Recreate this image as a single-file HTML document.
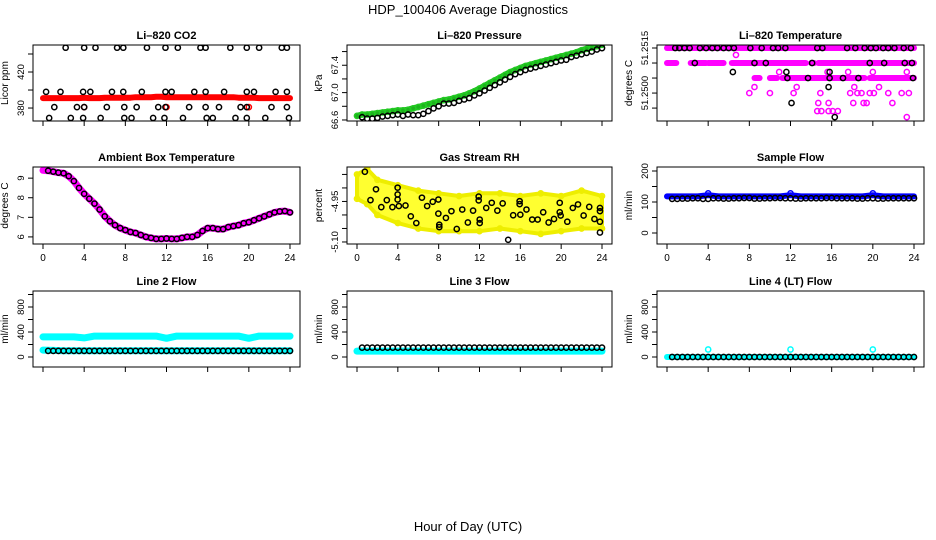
<!DOCTYPE html>
<html><head><meta charset="utf-8"><style>
body{margin:0;background:#fff}
svg{display:block;font-family:"Liberation Sans",Arial,sans-serif}
</style></head><body>
<svg id="c" width="936" height="540" viewBox="0 0 936 540">
<text x="468" y="14" text-anchor="middle" font-size="13">HDP_100406  Average Diagnostics</text>
<text x="468" y="531" text-anchor="middle" font-size="13">Hour of Day (UTC)</text>
</svg>
<script>
// ---------- data ----------
const xTicks=[0,4,8,12,16,20,24];
const halfHours=[0,0.5,1,1.5,2,2.5,3,3.5,4,4.5,5,5.5,6,6.5,7,7.5,8,8.5,9,9.5,10,10.5,11,11.5,12,12.5,13,13.5,14,14.5,15,15.5,16,16.5,17,17.5,18,18.5,19,19.5,20,20.5,21,21.5,22,22.5,23,23.5,24];
// CO2
const co2RedVals=[391,391,391,391,391,391,391,391,391.5,391,391,391,391.5,391.5,391.5,391.5,391.5,391.5,392,392,392,392,392.5,392.5,392,392,392,392,392,392,392,392,392,392,392,392,392,392,391.5,391.5,391.5,391.5,391,391,391,391,391,391,391];
const co2RedExtraHours=[4,12,20];
const co2RedExtraVals=[381,381,381];
const co2BlackHours=[2.2,4.0,5.1,7.2,7.8,10.1,11.9,13.1,15.3,15.8,18.2,19.8,21.0,23.2,23.7, 0.3,1.7,3.9,4.6,6.7,7.8,9.6,11.9,12.5,14.7,15.8,17.6,19.8,20.5,22.6,23.7, 1.1,3.3,4.0,6.2,7.9,9.1,11.2,11.9,14.2,15.8,17.1,19.2,19.8,22.2,23.7, 0.6,2.7,3.9,5.6,7.9,8.6,10.7,11.8,13.6,15.9,16.5,18.7,19.8,21.6,23.9];
const co2BlackVals=[447,447,447,447,447,447,447,447,447,447,447,447,447,447,447, 398,398,398,398,398,398,398,398,398,398,398,398,398,398,398,398, 381,381,381,381,381,381,381,381,381,381,381,381,381,381,381, 369,369,369,369,369,369,369,369,369,369,369,369,369,369,369];
// Pressure
const presGreen=[66.66,66.68,66.68,66.69,66.70,66.71,66.72,66.73,66.74,66.74,66.75,66.77,66.79,66.81,66.83,66.85,66.87,66.89,66.90,66.92,66.94,66.96,66.99,67.02,67.06,67.10,67.14,67.18,67.22,67.26,67.30,67.33,67.36,67.39,67.41,67.43,67.45,67.47,67.49,67.51,67.53,67.55,67.57,67.59,67.62,67.64,67.66,67.68,67.70];
const presBlack=[66.64,66.64,66.62,66.62,66.63,66.65,66.66,66.67,66.68,66.66,66.68,66.67,66.67,66.69,66.73,66.77,66.80,66.84,66.84,66.85,66.88,66.90,66.92,66.96,66.99,67.03,67.07,67.11,67.15,67.19,67.23,67.27,67.30,67.33,67.35,67.37,67.39,67.41,67.43,67.45,67.47,67.48,67.52,67.54,67.56,67.58,67.60,67.63,67.65];
// Li-820 temperature
const tempSegStart=[0,0,2.3,4,6.3,14,14.7,8.5,10,11.2,19.7];
const tempSegEnd=[24,0.9,3.8,5.5,13.5,14.3,24,9,10.7,19.2,24];
const tempSegLevel=[51.2515,51.2510,51.2510,51.2510,51.2510,51.2510,51.2510,51.2505,51.2505,51.2505,51.2505];
const tempMagHours=[6.7,8.0,10.0,12.3,14.9,17.8,18.5,18.9,19.7,20.1,21.5,22.8,23.5,10.9,15.6,17.6,20,23.3,8.5,12.6,18.2,20.6,14.7,15.7,18.1,19.1,19.4,21.9,14.6,15.0,15.7,16.1,16.6,23.3];
const tempMagVals=[51.25127,51.2500,51.2500,51.2500,51.2500,51.2500,51.2500,51.2500,51.2500,51.2500,51.2500,51.2500,51.2500,51.2507,51.2507,51.2507,51.2507,51.2507,51.2502,51.2502,51.2502,51.2502,51.24967,51.24967,51.24967,51.24967,51.24967,51.24967,51.2494,51.2494,51.2494,51.2494,51.2494,51.2492];
const tempBlackHours=[0.8,1.2,1.7,2.2,3.2,3.8,4.4,4.9,5.5,6,6.5,8.1,9.2,10.3,10.8,11.5,14.6,15.1,17.5,18.3,19.2,19.8,20.3,21,21.5,22.1,23,23.7, 2.7,8.5,9.6,14.1,19.7,21.1,23.1,23.8, 11.7,13.7,15.8,17.1,18.6,23.9, 6.4,11.6,15.8,15.7,12.1,16.3];
const tempBlackVals=[51.2515,51.2515,51.2515,51.2515,51.2515,51.2515,51.2515,51.2515,51.2515,51.2515,51.2515,51.2515,51.2515,51.2515,51.2515,51.2515,51.2515,51.2515,51.2515,51.2515,51.2515,51.2515,51.2515,51.2515,51.2515,51.2515,51.2515,51.2515, 51.2510,51.2510,51.2510,51.2510,51.2510,51.2510,51.2510,51.2510, 51.2505,51.2505,51.2505,51.2505,51.2505,51.2505, 51.2507,51.2507,51.2507,51.2502,51.24967,51.2492];
// Ambient box temperature
const ambVals=[9.4,9.38,9.33,9.28,9.25,9.1,8.85,8.5,8.2,7.95,7.7,7.4,7.05,6.8,6.6,6.45,6.35,6.25,6.2,6.1,6.0,5.95,5.9,5.9,5.92,5.9,5.9,5.95,6.0,6.0,6.1,6.3,6.45,6.45,6.4,6.4,6.5,6.55,6.6,6.7,6.75,6.85,6.95,7.05,7.15,7.25,7.3,7.32,7.25];
// Gas stream RH
const rhEnvHours=[0,1,2,4,6,8,10,12,14,16,18,20,22,24];
const rhEnvUpper=[-4.85,-4.83,-4.87,-4.89,-4.91,-4.92,-4.93,-4.92,-4.92,-4.93,-4.92,-4.93,-4.91,-4.93];
const rhEnvLower=[-4.94,-4.96,-5.00,-5.03,-5.05,-5.06,-5.06,-5.06,-5.05,-5.06,-5.07,-5.06,-5.05,-5.05];
const rhBlackHours=[0.77,1.32,1.86,2.38,2.92,3.47,3.98,3.98,3.98,4.1,4.75,5.27,5.81,6.36,6.87,7.42,7.97,7.97,8.06,8.06,8.71,9.25,9.77,10.31,10.86,11.37,11.92,11.92,12.02,12.02,12.66,13.2,13.75,14.27,14.81,15.3,15.93,15.93,16,16.6,17.16,17.7,18.24,18.77,19.3,19.86,19.86,19.95,20.6,21.14,21.65,22.2,22.75,23.26,23.8,23.8,23.8,23.8];
const rhBlackVals=[-4.84,-4.945,-4.905,-4.971,-4.945,-4.971,-4.899,-4.924,-4.943,-4.967,-4.965,-5.005,-5.03,-4.936,-4.967,-4.951,-4.943,-4.995,-5.036,-5.045,-5.011,-4.986,-5.052,-4.98,-5.028,-4.984,-4.932,-4.946,-5.017,-5.03,-4.974,-4.955,-4.984,-4.957,-5.092,-5.001,-4.949,-4.96,-4.999,-4.98,-5.017,-5.017,-4.99,-5.028,-5.015,-4.955,-4.99,-5.002,-5.025,-4.974,-4.961,-5.002,-4.97,-5.015,-4.974,-4.986,-5.025,-5.065];
// flows
const hourly=[0,1,2,3,4,5,6,7,8,9,10,11,12,13,14,15,16,17,18,19,20,21,22,23,24];
const sampleBlue=[118,118,118,118,122,118,118,118,118,118,118,118,122,118,118,118,118,118,118,118,122,118,118,118,118];
const sampleSpikeHours=[4,12,20];
const sampleSpikeVals=[128,128,128];
const sampleBlack=[112,110,111,112,110,112,111,112,113,111,112,113,112,111,112,112,113,112,112,111,112,111,112,112,112];
const line2CyanHigh=[322,322,322,322,305,335,335,335,335,335,335,335,300,335,335,335,335,335,335,335,300,335,335,335,335];
const line2CyanLow=[110,105,100,100,100,100,100,100,100,100,100,100,100,100,100,100,100,100,100,100,100,100,100,100,100];
const line2Black=[98,98,98,98,98,98,98,98,98,98,98,98,98,98,98,98,98,98,98,98,98,98,98,98,98];
const line3Cyan=[95,95,95,95,95,95,95,95,95,95,95,95,95,95,95,95,95,95,95,95,95,95,95,95,95];
const line3Black=[150,150,150,150,150,150,150,150,150,150,150,150,150,150,150,150,150,150,150,150,150,150,150,150,150];
const line4Cyan=[0,0,0,0,0,0,0,0,0,0,0,0,0,0,0,0,0,0,0,0,0,0,0,0,0];
const line4SpikeHours=[4,12,20];
const line4SpikeVals=[120,120,120];
const line4Black=[0,0,0,0,0,0,0,0,0,0,0,0,0,0,0,0,0,0,0,0,0,0,0,0,0];

// ---------- drawing ----------
const NS="http://www.w3.org/2000/svg";
const svg=document.getElementById('c');
function mk(tag,attrs,parent){const e=document.createElementNS(NS,tag);for(const k in attrs)e.setAttribute(k,attrs[k]);parent.appendChild(e);return e;}
const cols=[[33,300],[347,612],[657,924]];
const rows=[[45,121],[167,244],[291,367]];

function panel(ci,ri,title,ytitle,ymin,ymax,yticks,ylabels,showX,name){
  const [l,r]=cols[ci],[t,b]=rows[ri];
  const g=mk('g',{},svg);
  
  
  const X=h=>l+10+h*(r-l-20)/24;
  const Y=v=>b-(v-ymin)/(ymax-ymin)*(b-t);
  const tt=mk('text',{x:(l+r)/2,y:t-6,'text-anchor':'middle','font-size':11,'font-weight':'bold'},g);
  tt.textContent=title;
  
  
  const yt=mk('text',{transform:`translate(${l-25},${(t+b)/2}) rotate(-90)`,'text-anchor':'middle','font-size':10},g);
  yt.textContent=ytitle;
  
  
  yticks.forEach((v,i)=>{
    const y=Y(v);
    const tk=mk('line',{x1:l-5,x2:l,y1:y,y2:y,stroke:'#000'},g);
    
    
    if(ylabels[i]){
      const tl=mk('text',{transform:`translate(${l-9},${y}) rotate(-90)`,'text-anchor':'middle','font-size':9.5},g);
      tl.textContent=ylabels[i];
      
      
    }
  });
  xTicks.forEach(h=>{
    const x=X(h);
    const tk=mk('line',{x1:x,x2:x,y1:b,y2:b+5,stroke:'#000'},g);
    
    
    if(showX){
      const tl=mk('text',{x:x,y:b+17,'text-anchor':'middle','font-size':10},g);
      tl.textContent=String(h);
      
      
    }
  });
  const cid='clip'+ci+ri;
  const cp=mk('clipPath',{id:cid},g);mk('rect',{x:l,y:t,width:r-l,height:b-t},cp);
  const plot=mk('g',{'clip-path':`url(#${cid})`},g);
  
  
  const box=mk('rect',{x:l,y:t,width:r-l,height:b-t,fill:'none',stroke:'#000'},g);
  
  
  return {X,Y,plot};
}
function pts(p,hs,vs,color,sname,r){
  hs.forEach((h,i)=>{
    const c=mk('circle',{cx:p.X(h),cy:p.Y(vs[i]),r:r||2.6,fill:'none',stroke:color,'stroke-width':1.5},p.plot);
    
    
  });
}
function band(p,hs,vs,color,w,sname){
  const d=hs.map((h,i)=>(i?'L':'M')+p.X(h).toFixed(1)+','+p.Y(vs[i]).toFixed(1)).join('');
  const e=mk('path',{d:d,fill:'none',stroke:color,'stroke-width':w,'stroke-linejoin':'round','stroke-linecap':'round'},p.plot);
  
  
}

// CO2
let p=panel(0,0,'Li\u2013820 CO2','Licor ppm',365.6,450,[380,400,420,440],['380','','420',''],false,'co2');
band(p,halfHours,co2RedVals,'#f00',6,'co2-red-series');
pts(p,co2RedExtraHours,co2RedExtraVals,'#f00','co2-red-point');
pts(p,co2BlackHours,co2BlackVals,'#000','co2-black-point');
// Pressure
p=panel(1,0,'Li\u2013820 Pressure','kPa',66.585,67.696,[66.6,66.8,67.0,67.2,67.4,67.6],['66.6','','67.0','','67.4',''],false,'pressure');
band(p,halfHours,presGreen,'#1db31d',6,'pressure-green-series');
pts(p,halfHours,presGreen,'#22cc22','pressure-green-point');
pts(p,halfHours.slice(1),presBlack.slice(1),'#000','pressure-black-point');
// Li-820 temperature
p=panel(2,0,'Li\u2013820 Temperature','degrees C',51.24907,51.2516,[51.2515,51.2510,51.2505,51.2500,51.2495],['51.2515','','','51.2500',''],false,'li820-temp');
tempSegStart.forEach((s,i)=>band(p,[s,tempSegEnd[i]],[tempSegLevel[i],tempSegLevel[i]],'#f0f',6,'li820-temp-magenta-band'));
pts(p,tempMagHours,tempMagVals,'#f0f','li820-temp-magenta-point');
pts(p,tempBlackHours,tempBlackVals,'#000','li820-temp-black-point');
// Ambient
p=panel(0,1,'Ambient Box Temperature','degrees C',5.638,9.569,[6,7,8,9],['6','7','8','9'],true,'ambient');
band(p,halfHours,ambVals,'#f0f',7,'ambient-magenta-series');
pts(p,halfHours.slice(1),ambVals.slice(1),'#000','ambient-black-point');
// RH
p=panel(1,1,'Gas Stream RH','percent',-5.1075,-4.8225,[-4.85,-4.90,-4.95,-5.00,-5.05,-5.10],['','','-4.95','','','-5.10'],true,'rh');
{
  const d=rhEnvHours.map((h,i)=>(i?'L':'M')+p.X(h).toFixed(1)+','+p.Y(rhEnvUpper[i]).toFixed(1)).join('')+
    rhEnvHours.slice().reverse().map((h,k)=>{const i=rhEnvHours.length-1-k;return 'L'+p.X(h).toFixed(1)+','+p.Y(rhEnvLower[i]).toFixed(1);}).join('')+'Z';
  const e=mk('path',{d:d,fill:'#ffff30',stroke:'#ee0','stroke-width':4,'stroke-linejoin':'round'},p.plot);
  
  
}
pts(p,rhEnvHours,rhEnvUpper,'#ee0','rh-yellow-point');
pts(p,rhEnvHours,rhEnvLower,'#ee0','rh-yellow-point');
pts(p,rhBlackHours,rhBlackVals,'#000','rh-black-point');
// Sample flow
p=panel(2,1,'Sample Flow','ml/min',-35.5,212.9,[0,50,100,150,200],['0','','100','','200'],true,'sample-flow');
band(p,hourly,sampleBlue,'#00f',6,'sample-flow-blue-series');
pts(p,sampleSpikeHours,sampleSpikeVals,'#00f','sample-flow-blue-point');
pts(p,halfHours.slice(1),halfHours.slice(1).map((h,i)=>sampleBlack[Math.round(h)]),'#000','sample-flow-black-point');
// Line 2
const flowTicks=[0,200,400,600,800,1000],flowLabels=['0','','400','','800',''];
p=panel(0,2,'Line 2 Flow','ml/min',-160,1056,flowTicks,flowLabels,false,'line2-flow');
band(p,hourly,line2CyanHigh,'#0ff',7,'line2-cyan-high-series');
band(p,hourly,line2CyanLow,'#0ff',7,'line2-cyan-low-series');
pts(p,halfHours.slice(1),halfHours.slice(1).map(h=>line2Black[Math.round(h)]),'#000','line2-black-point');
// Line 3
p=panel(1,2,'Line 3 Flow','ml/min',-160,1056,flowTicks,flowLabels,false,'line3-flow');
band(p,hourly,line3Cyan,'#0ff',7,'line3-cyan-series');
pts(p,halfHours.slice(1),halfHours.slice(1).map(h=>line3Black[Math.round(h)]),'#000','line3-black-point');
// Line 4
p=panel(2,2,'Line 4 (LT) Flow','ml/min',-160,1056,flowTicks,flowLabels,false,'line4-flow');
band(p,hourly,line4Cyan,'#0ff',6,'line4-cyan-series');
pts(p,line4SpikeHours,line4SpikeVals,'#0ff','line4-cyan-point');
pts(p,halfHours.slice(1),halfHours.slice(1).map(h=>line4Black[Math.round(h)]),'#000','line4-black-point');
</script>
</body></html>
